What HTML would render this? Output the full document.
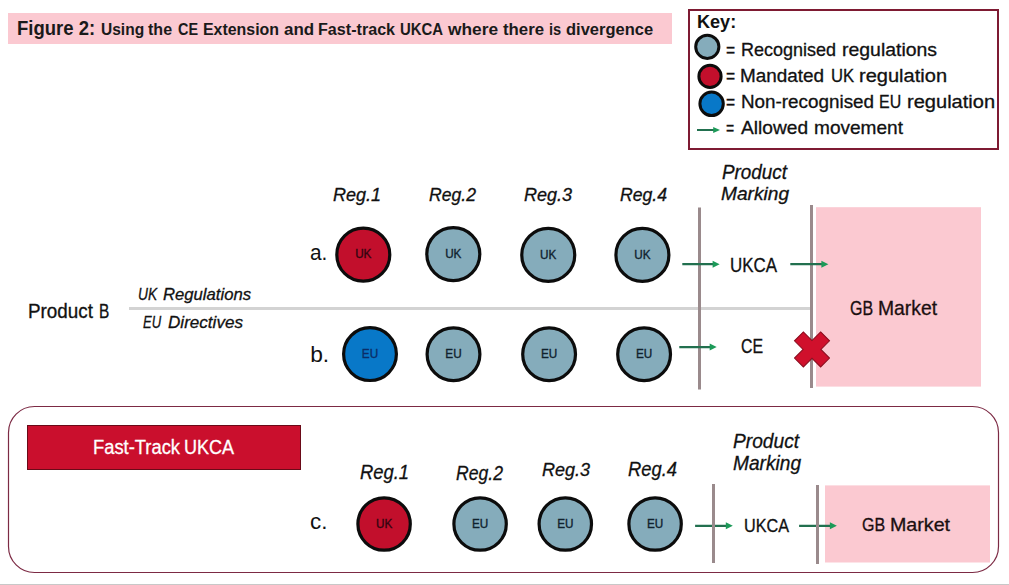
<!DOCTYPE html>
<html><head><meta charset="utf-8"><style>
html,body{margin:0;padding:0;background:#fff;}
body{width:1009px;height:585px;overflow:hidden;}
svg{display:block;font-family:"Liberation Sans",sans-serif;}
</style></head><body>
<svg width="1009" height="585" viewBox="0 0 1009 585">
<rect x="8" y="13" width="664" height="31" fill="#fbc9d1"/>
<rect x="689" y="10" width="309" height="139" fill="none" stroke="#7e1a32" stroke-width="2"/>
<circle cx="707.3" cy="46.8" r="11.6" fill="#85acbb" stroke="#0c0c0c" stroke-width="3"/>
<circle cx="710" cy="76.4" r="11.1" fill="#c20f2c" stroke="#0c0c0c" stroke-width="3"/>
<circle cx="711.6" cy="103.8" r="11.7" fill="#0878c8" stroke="#0c0c0c" stroke-width="3"/>
<line x1="697" y1="130.0" x2="715" y2="130.0" stroke="#22704f" stroke-width="2.0"/>
<path d="M713.2,127.0 L720,130.0 L713.2,133.0 Z" fill="#1c9a58"/>
<circle cx="363.3" cy="254.7" r="26.5" fill="#c20f2c" stroke="#0c0c0c" stroke-width="3.2"/>
<text x="355.15" y="258.30" font-size="12.3" fill="#320510" stroke="#320510" stroke-width="0.35" textLength="16.3" lengthAdjust="spacingAndGlyphs">UK</text>
<circle cx="453.3" cy="254.1" r="26.5" fill="#85acbb" stroke="#0c0c0c" stroke-width="3.2"/>
<text x="445.15" y="257.70" font-size="12.3" fill="#10222e" stroke="#10222e" stroke-width="0.35" textLength="16.3" lengthAdjust="spacingAndGlyphs">UK</text>
<circle cx="548.25" cy="254.9" r="26.5" fill="#85acbb" stroke="#0c0c0c" stroke-width="3.2"/>
<text x="540.10" y="258.50" font-size="12.3" fill="#10222e" stroke="#10222e" stroke-width="0.35" textLength="16.3" lengthAdjust="spacingAndGlyphs">UK</text>
<circle cx="642.4" cy="254.9" r="26.5" fill="#85acbb" stroke="#0c0c0c" stroke-width="3.2"/>
<text x="634.25" y="258.50" font-size="12.3" fill="#10222e" stroke="#10222e" stroke-width="0.35" textLength="16.3" lengthAdjust="spacingAndGlyphs">UK</text>
<circle cx="370" cy="354.1" r="26.4" fill="#0878c8" stroke="#0c0c0c" stroke-width="3.2"/>
<text x="361.85" y="357.70" font-size="12.3" fill="#0b2d68" stroke="#0b2d68" stroke-width="0.35" textLength="16.3" lengthAdjust="spacingAndGlyphs">EU</text>
<circle cx="453.5" cy="354.2" r="26.4" fill="#85acbb" stroke="#0c0c0c" stroke-width="3.2"/>
<text x="445.35" y="357.80" font-size="12.3" fill="#10222e" stroke="#10222e" stroke-width="0.35" textLength="16.3" lengthAdjust="spacingAndGlyphs">EU</text>
<circle cx="549.1" cy="354.2" r="26.4" fill="#85acbb" stroke="#0c0c0c" stroke-width="3.2"/>
<text x="540.95" y="357.80" font-size="12.3" fill="#10222e" stroke="#10222e" stroke-width="0.35" textLength="16.3" lengthAdjust="spacingAndGlyphs">EU</text>
<circle cx="644.1" cy="354.2" r="26.4" fill="#85acbb" stroke="#0c0c0c" stroke-width="3.2"/>
<text x="635.95" y="357.80" font-size="12.3" fill="#10222e" stroke="#10222e" stroke-width="0.35" textLength="16.3" lengthAdjust="spacingAndGlyphs">EU</text>
<rect x="129" y="307" width="681" height="3" fill="#d3d3d3"/>
<rect x="698" y="207.5" width="3" height="182" fill="#9a8a8c"/>
<rect x="810" y="205" width="3" height="183" fill="#9a8a8c"/>
<rect x="816" y="207.2" width="165" height="179.4" fill="#fbc9d1"/>
<line x1="682.3" y1="264.2" x2="714.6" y2="264.2" stroke="#22704f" stroke-width="2.2"/>
<path d="M712.6,260.7 L719.6,264.2 L712.6,267.7 Z" fill="#1c9a58"/>
<line x1="790.3" y1="264.2" x2="823.4" y2="264.2" stroke="#22704f" stroke-width="2.2"/>
<path d="M821.4,260.7 L828.4,264.2 L821.4,267.7 Z" fill="#1c9a58"/>
<line x1="679.3" y1="347.1" x2="711.7" y2="347.1" stroke="#22704f" stroke-width="2.2"/>
<path d="M709.7,343.6 L716.7,347.1 L709.7,350.6 Z" fill="#1c9a58"/>
<polygon points="-6.30,-18.50 6.30,-18.50 6.30,-6.30 18.50,-6.30 18.50,6.30 6.30,6.30 6.30,18.50 -6.30,18.50 -6.30,6.30 -18.50,6.30 -18.50,-6.30 -6.30,-6.30" transform="translate(812,349.4) rotate(45)" fill="#d0102c" stroke="#8a0d1e" stroke-width="1"/>
<rect x="8.5" y="406.5" width="990" height="166" rx="26" ry="26" fill="none" stroke="#7c2a44" stroke-width="1.2"/>
<rect x="27.5" y="425.5" width="273" height="44" fill="#ca0f2d" stroke="#6a0a18" stroke-width="1"/>
<circle cx="384.1" cy="524" r="26.2" fill="#c20f2c" stroke="#0c0c0c" stroke-width="3.2"/>
<text x="375.95" y="527.60" font-size="12.3" fill="#320510" stroke="#320510" stroke-width="0.35" textLength="16.3" lengthAdjust="spacingAndGlyphs">UK</text>
<circle cx="480.1" cy="524" r="26.2" fill="#85acbb" stroke="#0c0c0c" stroke-width="3.2"/>
<text x="471.95" y="527.60" font-size="12.3" fill="#10222e" stroke="#10222e" stroke-width="0.35" textLength="16.3" lengthAdjust="spacingAndGlyphs">EU</text>
<circle cx="565.3" cy="524" r="26.2" fill="#85acbb" stroke="#0c0c0c" stroke-width="3.2"/>
<text x="557.15" y="527.60" font-size="12.3" fill="#10222e" stroke="#10222e" stroke-width="0.35" textLength="16.3" lengthAdjust="spacingAndGlyphs">EU</text>
<circle cx="655.1" cy="524" r="26.2" fill="#85acbb" stroke="#0c0c0c" stroke-width="3.2"/>
<text x="646.95" y="527.60" font-size="12.3" fill="#10222e" stroke="#10222e" stroke-width="0.35" textLength="16.3" lengthAdjust="spacingAndGlyphs">EU</text>
<rect x="825" y="485.4" width="165" height="77.1" fill="#fbc9d1"/>
<line x1="695.1" y1="525.8" x2="727.8" y2="525.8" stroke="#22704f" stroke-width="2.2"/>
<path d="M725.8,522.3 L732.8,525.8 L725.8,529.3 Z" fill="#1c9a58"/>
<line x1="799.1" y1="525.8" x2="831.9" y2="525.8" stroke="#22704f" stroke-width="2.2"/>
<path d="M829.9,522.3 L836.9,525.8 L829.9,529.3 Z" fill="#1c9a58"/>
<rect x="712" y="484" width="3" height="79" fill="#9a8a8c"/>
<rect x="816" y="485" width="3" height="79" fill="#9a8a8c"/>
<rect x="0" y="584" width="1009" height="1" fill="#c8c8c8"/>
<text id="t_fig" x="17.00" y="35.10" font-size="20.78" font-weight="bold" font-style="normal" fill="#1a1a1a" textLength="78.10" lengthAdjust="spacingAndGlyphs">Figure 2:</text>
<text id="t_title_0" x="101.00" y="34.60" font-size="16.13" font-weight="bold" font-style="normal" fill="#1a1a1a" textLength="43.15" lengthAdjust="spacingAndGlyphs">Using</text>
<text id="t_title_1" x="148.00" y="34.60" font-size="16.13" font-weight="bold" font-style="normal" fill="#1a1a1a" textLength="24.06" lengthAdjust="spacingAndGlyphs">the</text>
<text id="t_title_2" x="178.00" y="34.60" font-size="16.13" font-weight="bold" font-style="normal" fill="#1a1a1a" textLength="20.06" lengthAdjust="spacingAndGlyphs">CE</text>
<text id="t_title_3" x="203.00" y="34.60" font-size="16.13" font-weight="bold" font-style="normal" fill="#1a1a1a" textLength="76.07" lengthAdjust="spacingAndGlyphs">Extension</text>
<text id="t_title_4" x="284.00" y="34.60" font-size="16.13" font-weight="bold" font-style="normal" fill="#1a1a1a" textLength="30.15" lengthAdjust="spacingAndGlyphs">and</text>
<text id="t_title_5" x="318.00" y="34.60" font-size="16.13" font-weight="bold" font-style="normal" fill="#1a1a1a" textLength="77.06" lengthAdjust="spacingAndGlyphs">Fast-track</text>
<text id="t_title_6" x="400.00" y="34.60" font-size="16.13" font-weight="bold" font-style="normal" fill="#1a1a1a" textLength="43.08" lengthAdjust="spacingAndGlyphs">UKCA</text>
<text id="t_title_7" x="448.00" y="34.60" font-size="16.13" font-weight="bold" font-style="normal" fill="#1a1a1a" textLength="50.06" lengthAdjust="spacingAndGlyphs">where</text>
<text id="t_title_8" x="503.00" y="34.60" font-size="16.13" font-weight="bold" font-style="normal" fill="#1a1a1a" textLength="41.05" lengthAdjust="spacingAndGlyphs">there</text>
<text id="t_title_9" x="549.00" y="34.60" font-size="16.13" font-weight="bold" font-style="normal" fill="#1a1a1a" textLength="12.21" lengthAdjust="spacingAndGlyphs">is</text>
<text id="t_title_10" x="566.00" y="34.60" font-size="16.13" font-weight="bold" font-style="normal" fill="#1a1a1a" textLength="87.05" lengthAdjust="spacingAndGlyphs">divergence</text>
<text id="k_key" x="697.00" y="27.50" font-size="18.17" font-weight="bold" font-style="normal" fill="#111" textLength="39.21" lengthAdjust="spacingAndGlyphs">Key:</text>
<text id="k_1_0" x="726.00" y="56.30" font-size="17.88" font-weight="normal" font-style="normal" fill="#111" stroke="#111" stroke-width="0.3" textLength="9.14" lengthAdjust="spacingAndGlyphs">=</text>
<text id="k_1_1" x="741.00" y="56.30" font-size="17.88" font-weight="normal" font-style="normal" fill="#111" stroke="#111" stroke-width="0.3" textLength="95.03" lengthAdjust="spacingAndGlyphs">Recognised</text>
<text id="k_1_2" x="842.00" y="56.30" font-size="17.88" font-weight="normal" font-style="normal" fill="#111" stroke="#111" stroke-width="0.3" textLength="95.03" lengthAdjust="spacingAndGlyphs">regulations</text>
<text id="k_2_0" x="726.00" y="82.40" font-size="17.88" font-weight="normal" font-style="normal" fill="#111" stroke="#111" stroke-width="0.3" textLength="9.14" lengthAdjust="spacingAndGlyphs">=</text>
<text id="k_2_1" x="740.00" y="82.40" font-size="17.88" font-weight="normal" font-style="normal" fill="#111" stroke="#111" stroke-width="0.3" textLength="84.08" lengthAdjust="spacingAndGlyphs">Mandated</text>
<text id="k_2_2" x="831.00" y="82.40" font-size="17.88" font-weight="normal" font-style="normal" fill="#111" stroke="#111" stroke-width="0.3" textLength="23.13" lengthAdjust="spacingAndGlyphs">UK</text>
<text id="k_2_3" x="859.00" y="82.40" font-size="17.88" font-weight="normal" font-style="normal" fill="#111" stroke="#111" stroke-width="0.3" textLength="88.06" lengthAdjust="spacingAndGlyphs">regulation</text>
<text id="k_3_0" x="726.00" y="107.80" font-size="18.02" font-weight="normal" font-style="normal" fill="#111" stroke="#111" stroke-width="0.3" textLength="9.14" lengthAdjust="spacingAndGlyphs">=</text>
<text id="k_3_1" x="741.00" y="107.80" font-size="18.02" font-weight="normal" font-style="normal" fill="#111" stroke="#111" stroke-width="0.3" textLength="133.04" lengthAdjust="spacingAndGlyphs">Non-recognised</text>
<text id="k_3_2" x="879.00" y="107.80" font-size="18.02" font-weight="normal" font-style="normal" fill="#111" stroke="#111" stroke-width="0.3" textLength="22.15" lengthAdjust="spacingAndGlyphs">EU</text>
<text id="k_3_3" x="907.00" y="107.80" font-size="18.02" font-weight="normal" font-style="normal" fill="#111" stroke="#111" stroke-width="0.3" textLength="88.11" lengthAdjust="spacingAndGlyphs">regulation</text>
<text id="k_4_0" x="726.00" y="133.80" font-size="18.31" font-weight="normal" font-style="normal" fill="#111" stroke="#111" stroke-width="0.3" textLength="8.18" lengthAdjust="spacingAndGlyphs">=</text>
<text id="k_4_1" x="741.00" y="133.80" font-size="18.31" font-weight="normal" font-style="normal" fill="#111" stroke="#111" stroke-width="0.3" textLength="67.03" lengthAdjust="spacingAndGlyphs">Allowed</text>
<text id="k_4_2" x="814.00" y="133.80" font-size="18.31" font-weight="normal" font-style="normal" fill="#111" stroke="#111" stroke-width="0.3" textLength="89.01" lengthAdjust="spacingAndGlyphs">movement</text>
<text id="r1" x="333.00" y="200.50" font-size="17.44" font-weight="normal" font-style="italic" fill="#111" stroke="#111" stroke-width="0.3" textLength="48.07" lengthAdjust="spacingAndGlyphs">Reg.1</text>
<text id="r2" x="429.00" y="200.50" font-size="17.44" font-weight="normal" font-style="italic" fill="#111" stroke="#111" stroke-width="0.3" textLength="47.02" lengthAdjust="spacingAndGlyphs">Reg.2</text>
<text id="r3" x="524.00" y="200.50" font-size="17.44" font-weight="normal" font-style="italic" fill="#111" stroke="#111" stroke-width="0.3" textLength="48.06" lengthAdjust="spacingAndGlyphs">Reg.3</text>
<text id="r4" x="620.00" y="200.50" font-size="17.44" font-weight="normal" font-style="italic" fill="#111" stroke="#111" stroke-width="0.3" textLength="47.01" lengthAdjust="spacingAndGlyphs">Reg.4</text>
<text id="pm1" x="722.00" y="179.30" font-size="20.06" font-weight="normal" font-style="italic" fill="#111" stroke="#111" stroke-width="0.3" textLength="65.04" lengthAdjust="spacingAndGlyphs">Product</text>
<text id="pm2" x="721.00" y="200.30" font-size="18.31" font-weight="normal" font-style="italic" fill="#111" stroke="#111" stroke-width="0.3" textLength="68.02" lengthAdjust="spacingAndGlyphs">Marking</text>
<text id="la" x="310.00" y="259.50" font-size="22.92" font-weight="normal" font-style="normal" fill="#111" textLength="17.37" lengthAdjust="spacingAndGlyphs">a.</text>
<text id="ukca1" x="730.00" y="272.40" font-size="19.48" font-weight="normal" font-style="normal" fill="#111" stroke="#111" stroke-width="0.3" textLength="47.07" lengthAdjust="spacingAndGlyphs">UKCA</text>
<text id="gb1_0" x="850.00" y="314.60" font-size="19.48" font-weight="normal" font-style="normal" fill="#1a0f10" stroke="#1a0f10" stroke-width="0.3" textLength="23.10" lengthAdjust="spacingAndGlyphs">GB</text>
<text id="gb1_1" x="878.00" y="314.60" font-size="19.48" font-weight="normal" font-style="normal" fill="#1a0f10" stroke="#1a0f10" stroke-width="0.3" textLength="59.03" lengthAdjust="spacingAndGlyphs">Market</text>
<text id="pb_0" x="28.00" y="317.60" font-size="19.48" font-weight="normal" font-style="normal" fill="#111" stroke="#111" stroke-width="0.3" textLength="65.02" lengthAdjust="spacingAndGlyphs">Product</text>
<text id="pb_1" x="99.00" y="317.60" font-size="19.48" font-weight="normal" font-style="normal" fill="#111" stroke="#111" stroke-width="0.3" textLength="10.31" lengthAdjust="spacingAndGlyphs">B</text>
<text id="ukr_0" x="138.00" y="299.80" font-size="16.72" font-weight="normal" font-style="italic" fill="#111" stroke="#111" stroke-width="0.3" textLength="19.11" lengthAdjust="spacingAndGlyphs">UK</text>
<text id="ukr_1" x="163.00" y="299.80" font-size="16.72" font-weight="normal" font-style="italic" fill="#111" stroke="#111" stroke-width="0.3" textLength="88.02" lengthAdjust="spacingAndGlyphs">Regulations</text>
<text id="eud_0" x="143.00" y="327.80" font-size="17.15" font-weight="normal" font-style="italic" fill="#111" stroke="#111" stroke-width="0.3" textLength="18.11" lengthAdjust="spacingAndGlyphs">EU</text>
<text id="eud_1" x="168.00" y="327.80" font-size="17.15" font-weight="normal" font-style="italic" fill="#111" stroke="#111" stroke-width="0.3" textLength="75.01" lengthAdjust="spacingAndGlyphs">Directives</text>
<text id="lb" x="310.20" y="361.60" font-size="21.97" font-weight="normal" font-style="normal" fill="#111" textLength="18.98" lengthAdjust="spacingAndGlyphs">b.</text>
<text id="ce" x="741.00" y="352.80" font-size="19.48" font-weight="normal" font-style="normal" fill="#111" stroke="#111" stroke-width="0.3" textLength="22.05" lengthAdjust="spacingAndGlyphs">CE</text>
<text id="ft_0" x="93.00" y="453.90" font-size="19.91" font-weight="normal" font-style="normal" fill="#fff" stroke="#fff" stroke-width="0.3" textLength="87.04" lengthAdjust="spacingAndGlyphs">Fast-Track</text>
<text id="ft_1" x="184.00" y="453.90" font-size="19.91" font-weight="normal" font-style="normal" fill="#fff" stroke="#fff" stroke-width="0.3" textLength="50.10" lengthAdjust="spacingAndGlyphs">UKCA</text>
<text id="lc" x="310.00" y="528.60" font-size="21.97" font-weight="normal" font-style="normal" fill="#111" textLength="17.41" lengthAdjust="spacingAndGlyphs">c.</text>
<text id="c1" x="360.00" y="478.90" font-size="19.77" font-weight="normal" font-style="italic" fill="#111" stroke="#111" stroke-width="0.3" textLength="49.07" lengthAdjust="spacingAndGlyphs">Reg.1</text>
<text id="c2" x="456.00" y="480.00" font-size="19.77" font-weight="normal" font-style="italic" fill="#111" stroke="#111" stroke-width="0.3" textLength="47.00" lengthAdjust="spacingAndGlyphs">Reg.2</text>
<text id="c3" x="542.00" y="476.40" font-size="18.75" font-weight="normal" font-style="italic" fill="#111" stroke="#111" stroke-width="0.3" textLength="48.03" lengthAdjust="spacingAndGlyphs">Reg.3</text>
<text id="c4" x="628.00" y="476.00" font-size="20.35" font-weight="normal" font-style="italic" fill="#111" stroke="#111" stroke-width="0.3" textLength="49.07" lengthAdjust="spacingAndGlyphs">Reg.4</text>
<text id="pm3" x="733.00" y="448.30" font-size="20.49" font-weight="normal" font-style="italic" fill="#111" stroke="#111" stroke-width="0.3" textLength="66.05" lengthAdjust="spacingAndGlyphs">Product</text>
<text id="pm4" x="733.00" y="470.10" font-size="20.49" font-weight="normal" font-style="italic" fill="#111" stroke="#111" stroke-width="0.3" textLength="68.03" lengthAdjust="spacingAndGlyphs">Marking</text>
<text id="ukca2" x="744.00" y="531.60" font-size="18.31" font-weight="normal" font-style="normal" fill="#111" stroke="#111" stroke-width="0.3" textLength="45.05" lengthAdjust="spacingAndGlyphs">UKCA</text>
<text id="gb2_0" x="862.00" y="531.40" font-size="18.31" font-weight="normal" font-style="normal" fill="#1a0f10" stroke="#1a0f10" stroke-width="0.3" textLength="23.18" lengthAdjust="spacingAndGlyphs">GB</text>
<text id="gb2_1" x="890.00" y="531.40" font-size="18.31" font-weight="normal" font-style="normal" fill="#1a0f10" stroke="#1a0f10" stroke-width="0.3" textLength="60.06" lengthAdjust="spacingAndGlyphs">Market</text>
</svg>
</body></html>
